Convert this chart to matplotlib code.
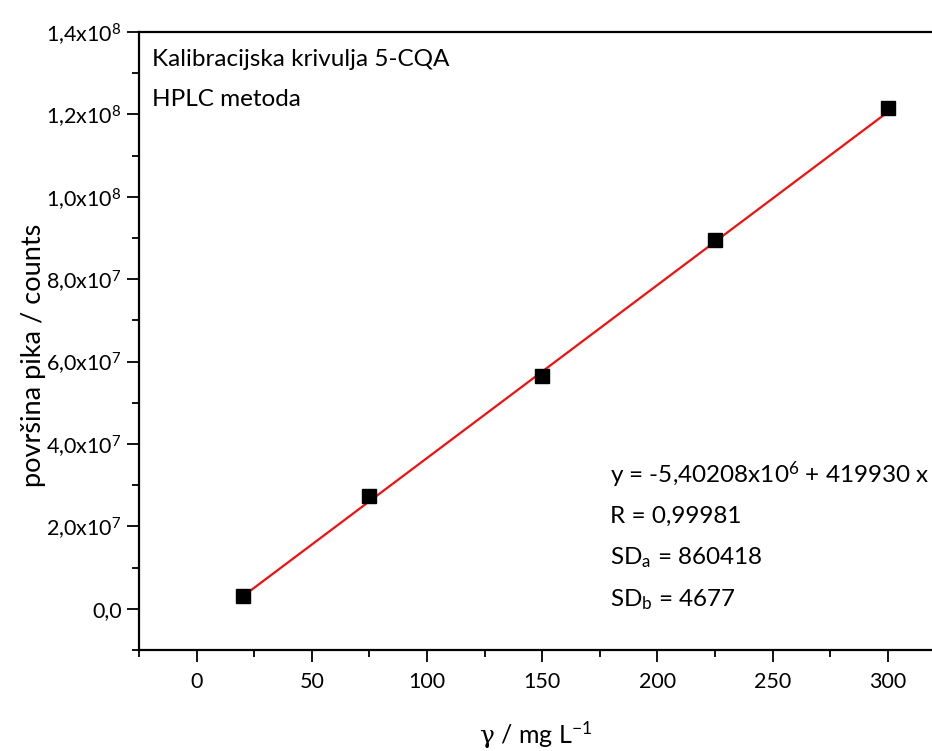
import matplotlib
matplotlib.use("Agg")
import matplotlib.pyplot as plt
from matplotlib.ticker import FixedLocator, MultipleLocator
import numpy as np

# ---- data ----
conc = [20, 75, 150, 225, 300]                      # mg/L
area = [3.15e6, 2.745e7, 5.64e7, 8.94e7, 1.216e8]   # counts
intercept = -5.40208e6
slope = 419930
yticks = [0, 2e7, 4e7, 6e7, 8e7, 1e8, 1.2e8, 1.4e8]
ytick_labels = ["0,0", "2,0x10$^{7}$", "4,0x10$^{7}$", "6,0x10$^{7}$",
                "8,0x10$^{7}$", "1,0x10$^{8}$", "1,2x10$^{8}$", "1,4x10$^{8}$"]
xticks = [0, 50, 100, 150, 200, 250, 300]
title_lines = ["Kalibracijska krivulja 5-CQA", "HPLC metoda"]
stats_lines = ["y = -5,40208x10$^{6}$ + 419930 x", "R = 0,99981",
               "SD$_{a}$ = 860418", "SD$_{b}$ = 4677"]

font = "Lato"
plt.rcParams['font.family'] = [font, 'DejaVu Sans']
plt.rcParams['mathtext.fontset'] = 'custom'
plt.rcParams['mathtext.rm'] = font
plt.rcParams['mathtext.it'] = font
plt.rcParams['mathtext.sf'] = 'DejaVu Serif'
plt.rcParams['mathtext.default'] = 'regular'

W, H = 932, 751
fig = plt.figure(figsize=(W/100, H/100), dpi=100)
ax = fig.add_axes([139/W, 1-650/H, 1-139/W, (650-32)/H])

xfit = np.array([min(conc), max(conc)])
ax.plot(xfit, intercept + slope*xfit, color='#f01010', lw=1.6, zorder=2)
ax.plot(conc, area, 's', color='black', ms=10, zorder=3)

ax.set_xlim(-25, 319.2)
ax.set_ylim(-1e7, 1.4e8)
ax.spines['right'].set_visible(False)
for s in ['left', 'bottom', 'top']:
    ax.spines[s].set_linewidth(1.6)

ax.xaxis.set_major_locator(FixedLocator(xticks))
ax.xaxis.set_minor_locator(MultipleLocator(25))
ax.set_yticks(yticks)
ax.set_yticklabels(ytick_labels)
ax.yaxis.set_minor_locator(MultipleLocator(1e7))
ax.tick_params(which='major', direction='out', length=8.5, width=1.3,
               labelsize=15.5, colors='black', pad=4)
ax.tick_params(which='minor', direction='out', length=5, width=1.3)
ax.tick_params(axis='x', which='major', pad=7)
ax.tick_params(top=False, right=False, which='both')

ax.set_ylabel("površina pika / counts", fontsize=19.5)
ax.yaxis.set_label_coords(-0.117, 0.476)
ax.set_xlabel(r"$\mathsf{\gamma}$ / mg L$^{-1}$", fontsize=18, labelpad=20)

for i, t in enumerate(title_lines):
    fig.text(152/W, 1-(60 + i*40)/H, t, fontsize=17.5, va='center', ha='left')

for i, t in enumerate(stats_lines):
    fig.text(610/W, 1-(475 + i*41.5)/H, t, fontsize=17.5, va='center', ha='left')

fig.savefig("out.png", dpi=100)
